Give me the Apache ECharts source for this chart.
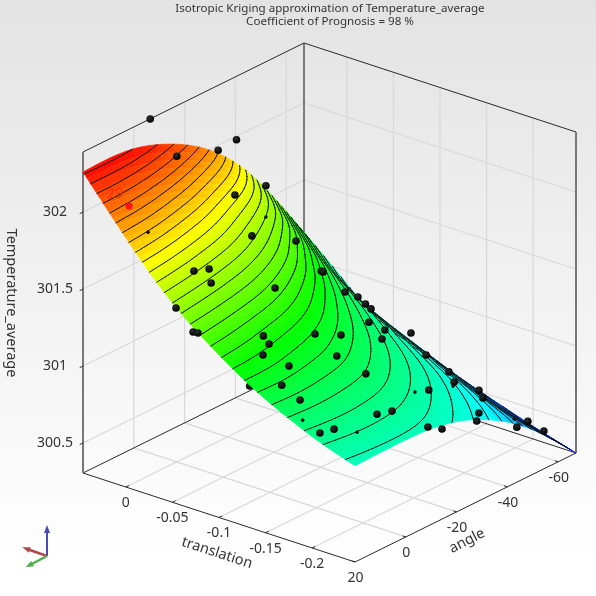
<!DOCTYPE html>
<html>
<head>
<meta charset="utf-8">
<title>Temperature_average</title>
<script src="https://cdn.jsdelivr.net/npm/echarts@6/dist/echarts.min.js"></script>
<style>
  html, body { margin: 0; padding: 0; background: #fff; }
  #chart { width: 596px; height: 596px; }
</style>
</head>
<body>
<div id="chart"></div>
<script>
// axis ticks
const translationTicks = [0, -0.05, -0.1, -0.15, -0.2];
const angleTicks = [20, 0, -20, -40, -60];
const temperatureTicks = [300.5, 301, 301.5, 302];
const translationTickLabels = ['0', '-0.05', '-0.1', '-0.15', '-0.2'];
const angleTickLabels = ['20', '0', '-20', '-40', '-60'];
const temperatureTickLabels = ['300.5', '301', '301.5', '302'];

// axis extents
const translationRange = [0.046, -0.246];
const angleRange = [20, -67];
const temperatureRange = [300.305, 302.39];

// kriging surface: one row per translation, one column per angle
const gridTranslation = [0.046, 0.0095, -0.027, -0.0635, -0.1, -0.1365, -0.173, -0.2095, -0.246];
const gridAngle = [20, 9.125, -1.75, -12.625, -23.5, -34.375, -45.25, -56.125, -67];
const surfaceTemperature = [
  [302.26, 302.27, 302.25, 302.18, 302.083, 301.94, 301.737, 301.46, 301.16],
  [301.99, 301.97, 301.906, 301.84, 301.734, 301.66, 301.533, 301.21, 300.972],
  [301.73, 301.70, 301.663, 301.624, 301.567, 301.466, 301.25, 301.06, 300.764],
  [301.52, 301.50, 301.476, 301.44, 301.364, 301.25, 301.11, 300.934, 300.664],
  [301.36, 301.34, 301.307, 301.277, 301.225, 301.13, 301.005, 300.842, 300.586],
  [301.21, 301.22, 301.20, 301.18, 301.12, 301.04, 300.921, 300.72, 300.514],
  [301.10, 301.105, 301.097, 301.086, 301.035, 300.96, 300.84, 300.616, 300.44],
  [301.00, 301.018, 301.017, 301.00, 300.953, 300.878, 300.74, 300.547, 300.368],
  [300.93, 300.935, 300.937, 300.926, 300.878, 300.789, 300.67, 300.50, 300.305]
];

// design points
const pointTranslation = [0.0472, 0.0454, 0.046, 0.0402, 0.046, 0.0212, -0.008, 0.0066, -0.036, -0.034, -0.0471, -0.0582, 0.0022, 0.001, -0.0106, -0.0124, -0.02, -0.0273, -0.0772, -0.0623, -0.0985, -0.0688, -0.0851, -0.1096, -0.1269, -0.1418, -0.1531, -0.1943, -0.2115, -0.1923, -0.2279, -0.2343, -0.2393, -0.234, -0.211, -0.208, -0.1929, -0.1704, -0.1479, -0.1099, -0.1117, -0.166, -0.2025, -0.2051, -0.0533, -0.0629, -0.0673, -0.0939, -0.1041, -0.1055, -0.1301, -0.1374];
const pointAngle = [-6.9, -40.2, -33.2, -14.8, -52, -30.7, -26.7, -49.4, 6.4, -0.3, 3.7, -17.4, -57.7, -58, -62.4, -66.8, -67, -66.5, -47.4, -59.1, -44.7, -67, -67, -67, -62.7, -67, -64.4, -67, -67, -63.4, -35.4, -32.2, -16.7, -13.1, -7.4, -2.6, -28.5, -12, -8.8, -24.4, -13.5, 12.3, 12.3, 18.8, 19.8, 16.6, 16.3, 0.3, 1.8, 4.7, 3.5, 9];
const pointTemperature = [302.383, 301.981, 301.968, 302.091, 301.585, 301.747, 301.572, 301.325, 301.669, 301.623, 301.591, 301.409, 301.071, 301.065, 300.922, 300.857, 300.825, 300.812, 300.98, 300.805, 300.935, 300.734, 300.623, 300.562, 300.565, 300.506, 300.5, 300.409, 300.38, 300.396, 300.786, 300.773, 300.857, 300.889, 300.993, 301.006, 300.922, 301.117, 301.214, 301.149, 301.247, 301.136, 301.019, 301.052, 301.572, 301.409, 301.409, 301.312, 301.292, 301.247, 301.214, 301.149];

// points mostly sunk below the surface, only a speck shows
const speckTranslation = [0.0092, 0.0013, -0.1315, -0.1812, -0.1931, -0.2148, -0.1835];
const speckAngle = [-38.5, 10.8, -60.6, -66.4, -23, 7.7, 17.7];
const speckTemperature = [301.565, 301.883, 300.565, 300.402, 300.954, 300.987, 301.084];

// point behind the surface edge
const buriedTranslation = [-0.1245];
const buriedAngle = [16.9];
const buriedTemperature = [301.182];

// highlighted best design
const bestTranslation = [0.0162];
const bestAngle = [12.8];
const bestTemperature = [302.039];
const bestLabel = '29';

const contourStep = 0.05;
const FONT = '"Noto Sans", sans-serif';
const linearMap = echarts.number.linearMap;

// oblique box: the three axes as screen vectors
function project(t, a, z) {
  const u = linearMap(t, translationRange, [0, 1]);
  const v = linearMap(a, angleRange, [0, 1]);
  const w = linearMap(z, temperatureRange, [0, 1]);
  return [83 + 272 * u + 221 * v, 473 + 89 * u - 109 * v - 321 * w];
}

function line(p, q, color, width) {
  return {
    type: 'line',
    shape: { x1: p[0], y1: p[1], x2: q[0], y2: q[1] },
    style: { stroke: color, lineWidth: width }
  };
}

function buildBox() {
  const tMax = translationRange[0], tMin = translationRange[1];
  const aMax = angleRange[0], aMin = angleRange[1];
  const zMin = temperatureRange[0], zMax = temperatureRange[1];
  const grid = '#d8d8d8', dark = '#2a2a2a', side = '#777';
  const out = [];

  translationTicks.forEach((t) => {
    out.push(line(project(t, aMax, zMin), project(t, aMin, zMin), grid, 1.2));
    out.push(line(project(t, aMin, zMin), project(t, aMin, zMax), grid, 1.2));
  });
  angleTicks.slice(1).forEach((a) => {
    out.push(line(project(tMin, a, zMin), project(tMax, a, zMin), grid, 1.2));
    out.push(line(project(tMax, a, zMin), project(tMax, a, zMax), grid, 1.2));
  });
  temperatureTicks.forEach((z) => {
    out.push(line(project(tMax, aMax, z), project(tMax, aMin, z), grid, 1.2));
    out.push(line(project(tMax, aMin, z), project(tMin, aMin, z), grid, 1.2));
  });

  out.push(line(project(tMax, aMin, zMin), project(tMax, aMin, zMax), '#111', 1));
  out.push(line(project(tMax, aMax, zMax), project(tMax, aMin, zMax), dark, 1));
  out.push(line(project(tMax, aMin, zMax), project(tMin, aMin, zMax), dark, 1));
  out.push(line(project(tMax, aMax, zMin), project(tMax, aMin, zMin), dark, 1));
  out.push(line(project(tMax, aMin, zMin), project(tMin, aMin, zMin), dark, 1));
  out.push(line(project(tMax, aMax, zMin), project(tMin, aMax, zMin), dark, 1));
  out.push(line(project(tMin, aMax, zMin), project(tMin, aMin, zMin), dark, 1));
  out.push(line(project(tMax, aMax, zMin), project(tMax, aMax, zMax), side, 2));
  out.push(line(project(tMin, aMin, zMin), project(tMin, aMin, zMax), side, 2));

  // ticks
  translationTicks.forEach((t) => {
    out.push(line(project(t, aMax, zMin), project(t, aMax - 1.2, zMin), dark, 1));
  });
  angleTicks.forEach((a) => {
    out.push(line(project(tMin, a, zMin), project(tMin + 0.0035, a, zMin), dark, 1));
  });
  temperatureTicks.forEach((z) => {
    out.push(line(project(tMax, aMax, z), project(tMax, aMax + 1.3, z), dark, 1));
  });
  return out;
}

// cubic B-spline over the table: draws smooth facets and irons out reading noise
function bspline(p0, p1, p2, p3, s) {
  const s2 = s * s, s3 = s2 * s, r = 1 - s;
  return (r * r * r * p0 + (3 * s3 - 6 * s2 + 4) * p1 + (-3 * s3 + 3 * s2 + 3 * s + 1) * p2 + s3 * p3) / 6;
}
function tableAt(i, j) {
  const n = gridTranslation.length - 1, m = gridAngle.length - 1;
  if (i < 0) return 2 * tableAt(0, j) - tableAt(1, j);
  if (i > n) return 2 * tableAt(n, j) - tableAt(n - 1, j);
  if (j < 0) return 2 * tableAt(i, 0) - tableAt(i, 1);
  if (j > m) return 2 * tableAt(i, m) - tableAt(i, m - 1);
  return surfaceTemperature[i][j];
}
function surfaceAt(fi, fj) {
  const i = Math.min(Math.floor(fi), gridTranslation.length - 2);
  const j = Math.min(Math.floor(fj), gridAngle.length - 2);
  const si = fi - i, sj = fj - j;
  const col = [];
  for (let k = -1; k <= 2; k++) {
    col.push(bspline(tableAt(i + k, j - 1), tableAt(i + k, j), tableAt(i + k, j + 1), tableAt(i + k, j + 2), sj));
  }
  return bspline(col[0], col[1], col[2], col[3], si);
}

function hsvColor(z) {
  const h = linearMap(z, [302.27, 300.305], [0, 240], true) / 60;
  const x = 1 - Math.abs(h % 2 - 1);
  const c = [[1, x, 0], [x, 1, 0], [0, 1, x], [0, x, 1], [x, 0, 1]][Math.floor(h)];
  return 'rgb(' + c.map((d) => Math.round(d * 255)).join(',') + ')';
}

function buildSurface() {
  const sub = 8;
  const N = (gridTranslation.length - 1) * sub, M = (gridAngle.length - 1) * sub;
  const zs = [], ps = [];
  for (let i = 0; i <= N; i++) {
    zs.push([]); ps.push([]);
    for (let j = 0; j <= M; j++) {
      const t = linearMap(i, [0, N], [gridTranslation[0], gridTranslation[gridTranslation.length - 1]]);
      const a = linearMap(j, [0, M], [gridAngle[0], gridAngle[gridAngle.length - 1]]);
      const z = surfaceAt(i / sub, j / sub);
      zs[i].push(z);
      ps[i].push(project(t, a, z));
    }
  }

  const out = [];
  // back to front, the viewer sits at the low translation / high angle corner
  for (let i = 0; i < N; i++) {
    for (let j = M - 1; j >= 0; j--) {
      const color = hsvColor((zs[i][j] + zs[i + 1][j] + zs[i][j + 1] + zs[i + 1][j + 1]) / 4);
      out.push({
        type: 'polygon',
        shape: { points: [ps[i][j], ps[i + 1][j], ps[i + 1][j + 1], ps[i][j + 1]] },
        style: { fill: color, stroke: color, lineWidth: 0.6 }
      });
    }
  }

  // contours by marching squares on the same mesh
  let path = '';
  const first = Math.ceil(temperatureRange[0] / contourStep) * contourStep;
  for (let level = first; level < temperatureRange[1]; level += contourStep) {
    for (let i = 0; i < N; i++) {
      for (let j = 0; j < M; j++) {
        const corners = [[i, j], [i + 1, j], [i + 1, j + 1], [i, j + 1]];
        const hits = [];
        for (let k = 0; k < 4; k++) {
          const a = corners[k], b = corners[(k + 1) % 4];
          const za = zs[a[0]][a[1]], zb = zs[b[0]][b[1]];
          if ((za < level) !== (zb < level)) {
            const s = (level - za) / (zb - za);
            const pa = ps[a[0]][a[1]], pb = ps[b[0]][b[1]];
            hits.push([pa[0] + (pb[0] - pa[0]) * s, pa[1] + (pb[1] - pa[1]) * s]);
          }
        }
        for (let k = 0; k + 1 < hits.length; k += 2) {
          path += 'M' + hits[k][0].toFixed(2) + ' ' + hits[k][1].toFixed(2) +
            'L' + hits[k + 1][0].toFixed(2) + ' ' + hits[k + 1][1].toFixed(2);
        }
      }
    }
  }
  out.push({
    type: 'path',
    shape: { pathData: path },
    style: { fill: 'none', stroke: '#141414', lineWidth: 0.95, lineCap: 'round' }
  });
  return out;
}

function ball(radius, light, shade) {
  return (params, api) => {
    const p = project(api.value(0), api.value(1), api.value(2));
    return {
      type: 'circle',
      shape: { cx: p[0], cy: p[1], r: radius },
      style: {
        fill: new echarts.graphic.RadialGradient(0.4, 0.35, 0.65, [
          { offset: 0, color: light },
          { offset: 1, color: shade }
        ])
      }
    };
  };
}

function zipPoints(ts, as, zs) {
  return ts.map((t, i) => [t, as[i], zs[i]]);
}

function tickLabel(text, p, dx, dy) {
  return {
    type: 'text',
    x: p[0] + dx,
    y: p[1] + dy,
    style: { text: text, fill: '#333', font: '14px ' + FONT, align: 'center', verticalAlign: 'middle' }
  };
}

function axisName(text, x, y, deg) {
  return {
    type: 'text',
    x: x,
    y: y,
    rotation: deg * Math.PI / 180,
    style: { text: text, fill: '#333', font: '14.5px ' + FONT, align: 'center', verticalAlign: 'middle' }
  };
}

function triadArrow(x2, y2, color, width) {
  return {
    type: 'line',
    shape: { x1: 47, y1: 556, x2: x2, y2: y2 },
    style: { stroke: color, lineWidth: width }
  };
}

function triadHead(x, y, deg, color) {
  return {
    type: 'polygon',
    x: x,
    y: y,
    rotation: deg * Math.PI / 180,
    shape: { points: [[0, -5], [3, 3], [-3, 3]] },
    style: { fill: color }
  };
}

const graphics = [];
translationTicks.forEach((t, i) => {
  graphics.push(tickLabel(translationTickLabels[i], project(t, angleRange[0], temperatureRange[0]), 0, 16));
});
angleTicks.forEach((a, i) => {
  graphics.push(tickLabel(angleTickLabels[i], project(translationRange[1], a, temperatureRange[0]), 0.5, 16));
});
temperatureTicks.forEach((z, i) => {
  const p = project(translationRange[0], angleRange[0], z);
  graphics.push(tickLabel(temperatureTickLabels[i], [55, p[1]], 0, 0));
});
graphics.push(axisName('translation', 217, 553, -18));
graphics.push(axisName('angle', 467, 541, 27));
graphics.push(axisName('Temperature_average', 11, 303, -90));
graphics.push(triadArrow(47, 530, '#4a4ab4', 2));
graphics.push(triadArrow(27, 549, '#b04a4a', 2.5));
graphics.push(triadArrow(30, 565, '#4cb04c', 2.5));
graphics.push(triadHead(47, 530, 0, '#4a4ab4'));
graphics.push(triadHead(27, 549, 71, '#b04a4a'));
graphics.push(triadHead(30, 565, 118, '#4cb04c'));

const bestPoint = project(bestTranslation[0], bestAngle[0], bestTemperature[0]);

const boxChildren = buildBox();
const surfaceChildren = buildSurface();

const chart = echarts.init(document.getElementById('chart'), null, { renderer: 'canvas' });
chart.setOption({
  animation: false,
  backgroundColor: new echarts.graphic.LinearGradient(0, 0, 0, 1, [
    { offset: 0, color: '#e3e3e3' },
    { offset: 0.95, color: '#ffffff' }
  ]),
  title: {
    text: 'Isotropic Kriging approximation of Temperature_average\nCoefficient of Prognosis = 98 %',
    left: 325,
    top: -3,
    textAlign: 'center',
    textStyle: { fontFamily: FONT, fontSize: 11.6, fontWeight: 'normal', color: '#333', lineHeight: 13 }
  },
  graphic: graphics,
  series: [
    {
      type: 'custom', coordinateSystem: 'none', silent: true, z: 1, data: [[0]],
      renderItem: () => ({ type: 'group', children: boxChildren })
    },
    {
      type: 'custom', coordinateSystem: 'none', silent: true, z: 2,
      data: zipPoints(buriedTranslation, buriedAngle, buriedTemperature),
      renderItem: ball(3.8, '#2c2c2c', '#000')
    },
    {
      type: 'custom', coordinateSystem: 'none', silent: true, z: 3, data: [[0]],
      renderItem: () => ({ type: 'group', children: surfaceChildren })
    },
    {
      type: 'custom', coordinateSystem: 'none', silent: true, z: 4,
      data: zipPoints(speckTranslation, speckAngle, speckTemperature),
      renderItem: ball(1.8, '#222', '#000')
    },
    {
      type: 'custom', coordinateSystem: 'none', silent: true, z: 5,
      data: zipPoints(pointTranslation, pointAngle, pointTemperature),
      renderItem: ball(3.8, '#2c2c2c', '#000')
    },
    {
      type: 'custom', coordinateSystem: 'none', silent: true, z: 6,
      data: zipPoints(bestTranslation, bestAngle, bestTemperature),
      renderItem: (params, api) => {
        const p = project(api.value(0), api.value(1), api.value(2));
        return {
          type: 'group',
          children: [
            { type: 'circle', shape: { cx: p[0], cy: p[1], r: 3.6 }, style: { fill: '#fa1414' } },
            {
              type: 'text',
              x: bestPoint[0] - 14,
              y: bestPoint[1] - 12,
              style: { text: bestLabel, fill: '#ff2a10', font: '15px ' + FONT, align: 'center', verticalAlign: 'middle' }
            }
          ]
        };
      }
    }
  ]
});
</script>
</body>
</html>
